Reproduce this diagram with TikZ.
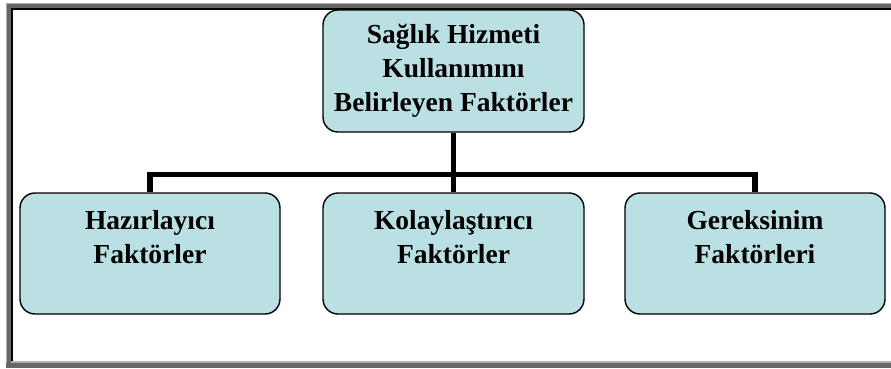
\documentclass[tikz,border=0pt]{standalone}
\usepackage{fontspec}
\setmainfont{Liberation Serif}[BoldFont={Liberation Serif Bold}]
\usepackage{tikz}
\definecolor{boxfill}{RGB}{186,224,228}
\definecolor{framedark}{RGB}{102,102,102}
\definecolor{framelight}{RGB}{176,176,176}

\begin{document}
\begin{tikzpicture}[x=1pt, y=-1pt,
    factorbox/.style={draw, line width=1.4pt, fill=boxfill, rounded corners=15pt,
      inner sep=0pt, align=center,
      font=\fontsize{27.5}{34}\selectfont\bfseries},
    conn/.style={line width=5.5pt}]
    \useasboundingbox (0,0) rectangle (891,368);
    % sunken page frame
    \fill[white] (0,0) rectangle (891,368);
    \fill[framelight] (6,3) rectangle (891,4);
    \fill[framelight] (6,3) rectangle (7,363);
    \fill[framedark] (7,4) rectangle (891,8);
    \fill[framedark] (7,4) rectangle (11,363);
    \fill[black] (11,8) rectangle (891,10);
    \fill[black] (11,8) rectangle (13,361);
    \fill[framelight] (11,361) rectangle (891,363);
    \fill[framedark] (6,363) rectangle (891,368);
    % boxes
    \node[factorbox, minimum width=261pt, minimum height=122pt] (hizmet) at (453.5,71)
      {Sağlık Hizmeti\\Kullanımını\\Belirleyen Faktörler};
    \node[factorbox, minimum width=260pt, minimum height=121pt] (hazir) at (150,253.5)
      {Hazırlayıcı\\Faktörler\\~};
    \node[factorbox, minimum width=261pt, minimum height=121pt] (kolay) at (453.5,253.5)
      {Kolaylaştırıcı\\Faktörler\\~};
    \node[factorbox, minimum width=260pt, minimum height=121pt] (gerek) at (755,253.5)
      {Gereksinim\\Faktörleri\\~};
    % connectors
    \coordinate (bar) at (453.5,174.5);
    \draw[conn] (hizmet.south) -- (kolay.north);
    \draw[conn] (hazir.north) |- (bar) -| (gerek.north);
\end{tikzpicture}
\end{document}
